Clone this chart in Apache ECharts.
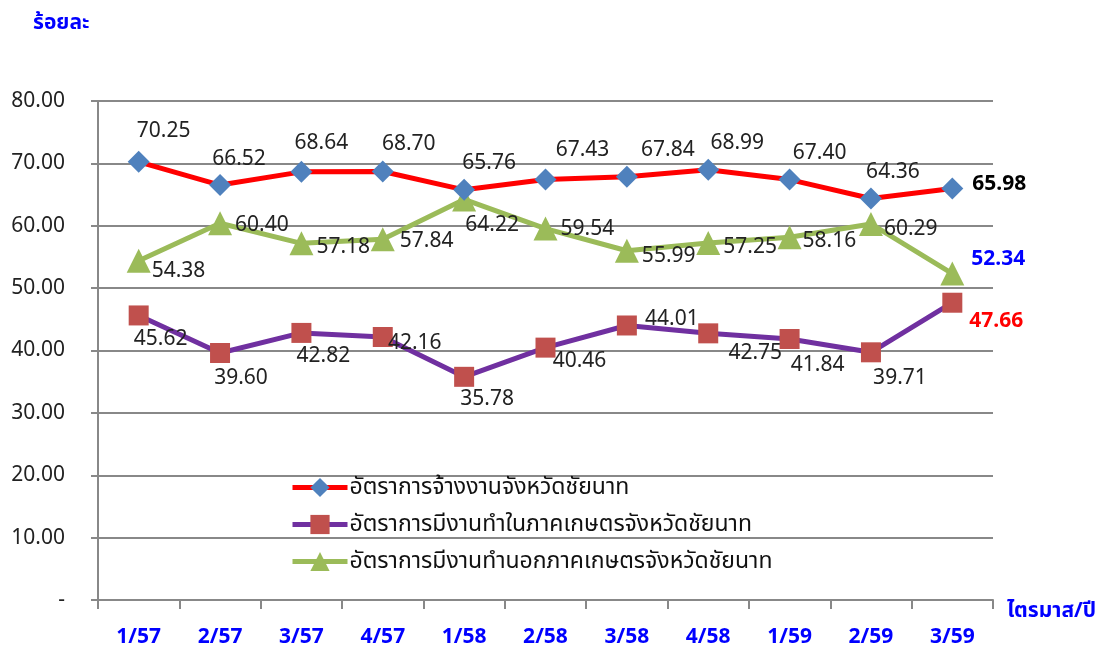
<!DOCTYPE html>
<html lang="th">
<head>
    <meta charset="UTF-8">
    <title>อัตราการจ้างงานจังหวัดชัยนาท</title>
    <style>
        *{
            margin: 0;
            padding: 0;
        }
        body{
            background: #fff;
        }
    </style>
</head>
<body>
<div id="main" style="width: 1109px;height:653px;"></div>
<script src="https://cdn.jsdelivr.net/npm/echarts@6/dist/echarts.min.js"></script>
<script type="text/javascript">
    // ข้อมูล
    var quarters = ['1/57','2/57','3/57','4/57','1/58','2/58','3/58','4/58','1/59','2/59','3/59'];
    var employRate = [70.25,66.52,68.64,68.70,65.76,67.43,67.84,68.99,67.40,64.36,65.98];
    var agriRate = [45.62,39.60,42.82,42.16,35.78,40.46,44.01,42.75,41.84,39.71,47.66];
    var nonAgriRate = [54.38,60.40,57.18,57.84,64.22,59.54,55.99,57.25,58.16,60.29,52.34];
    var yTicks = [0,10,20,30,40,50,60,70,80];

    var seriesNames = [
        'อัตราการจ้างงานจังหวัดชัยนาท',
        'อัตราการมีงานทำในภาคเกษตรจังหวัดชัยนาท',
        'อัตราการมีงานทำนอกภาคเกษตรจังหวัดชัยนาท'
    ];

    // ตำแหน่งป้ายข้อมูลแต่ละจุด (ปรับตามภาพ)
    var redPos = ['top','top','top','top','top','top','top','top','top','top','right'];
    var redOffsets = [[25,-4],[19,0],[20,-2],[26,-1],[25,0],[37,-3],[41,0],[29,0],[30,0],[22,0],[4,-4]];
    var purplePos = ['bottom','bottom','bottom','bottom','bottom','bottom','bottom','bottom','bottom','bottom','right'];
    var purpleOffsets = [[22,-2],[21,0],[22,-2],[32,-20],[23,-3],[34,-12],[45,-32],[47,-6],[28,0],[29,0],[2,18]];
    var greenPos = ['right','right','right','right','bottom','right','right','right','right','right','right'];
    var greenOffsets = [[-4,10],[-2,2],[-2,4],[0,2],[28,-2],[-2,0],[-2,5],[-2,4],[-4,4],[-4,5],[2,-15]];

    var FONT = '"Noto Sans", "Noto Sans Thai", sans-serif';

    function buildData(values, pos, offsets){
        return values.map(function(v, i){
            return {value: v, label: {position: pos[i], offset: offsets[i]}};
        });
    }

    function lastBold(data, color){
        data[data.length - 1].label.fontWeight = 'bold';
        data[data.length - 1].label.color = color;
        return data;
    }

    var myChart = echarts.init(document.getElementById('main'));
    myChart.setOption({
        animation: false,
        textStyle: {fontFamily: FONT},
        title: [
            {
                text: 'ร้อยละ',
                left: 28,
                top: 8,
                textStyle: {color: '#0000ff', fontSize: 21, fontWeight: 'bold', fontFamily: FONT}
            },
            {
                text: 'ไตรมาส/ปี',
                left: 1002,
                top: 596,
                textStyle: {color: '#0000ff', fontSize: 21, fontWeight: 'bold', fontFamily: FONT}
            }
        ],
        legend: {
            orient: 'vertical',
            left: 290,
            top: 476,
            padding: 0,
            itemWidth: 55,
            itemHeight: 24,
            itemGap: 14,
            lineStyle: {width: 5},
            textStyle: {fontSize: 23, color: '#111', fontFamily: FONT, padding: [0, 0, 0, -3]},
            data: seriesNames
        },
        grid: {
            left: 98,
            right: 116,
            top: 101,
            bottom: 53,
            containLabel: false
        },
        xAxis: {
            type: 'category',
            data: quarters,
            boundaryGap: true,
            axisLine: {lineStyle: {color: '#888', width: 2}},
            axisTick: {show: true, length: 9, lineStyle: {color: '#888', width: 2}},
            axisLabel: {
                margin: 27,
                fontSize: 21,
                fontWeight: 'bold',
                color: '#0000ff',
                fontFamily: FONT
            }
        },
        yAxis: {
            type: 'value',
            min: yTicks[0],
            max: yTicks[yTicks.length - 1],
            interval: 10,
            axisLine: {show: true, lineStyle: {color: '#888', width: 2}},
            axisTick: {show: true, length: 7, lineStyle: {color: '#888', width: 2}},
            splitLine: {lineStyle: {color: '#888', width: 2}},
            axisLabel: {
                margin: 33,
                fontSize: 21,
                color: '#222',
                fontFamily: FONT,
                formatter: function(value){
                    if(value == 0){
                        return '-';
                    }
                    return value.toFixed(2);
                }
            }
        },
        series: [
            {
                name: seriesNames[0],
                type: 'line',
                color: '#4f81bd',
                symbol: 'diamond',
                symbolSize: 22,
                lineStyle: {color: '#ff0000', width: 5},
                itemStyle: {color: '#4f81bd'},
                label: {
                    show: true,
                    fontSize: 21,
                    color: '#222',
                    fontFamily: FONT,
                    formatter: function(p){ return p.value.toFixed(2); }
                },
                data: lastBold(buildData(employRate, redPos, redOffsets), '#000'),
                z: 4
            },
            {
                name: seriesNames[1],
                type: 'line',
                color: '#c0504d',
                symbol: 'rect',
                symbolSize: 20,
                lineStyle: {color: '#7030a0', width: 5},
                itemStyle: {color: '#c0504d'},
                label: {
                    show: true,
                    fontSize: 21,
                    color: '#222',
                    fontFamily: FONT,
                    formatter: function(p){ return p.value.toFixed(2); }
                },
                data: lastBold(buildData(agriRate, purplePos, purpleOffsets), '#ff0000'),
                z: 3
            },
            {
                name: seriesNames[2],
                type: 'line',
                color: '#9bbb59',
                symbol: 'triangle',
                symbolSize: 24,
                lineStyle: {color: '#9bbb59', width: 5},
                itemStyle: {color: '#9bbb59'},
                label: {
                    show: true,
                    fontSize: 21,
                    color: '#222',
                    fontFamily: FONT,
                    formatter: function(p){ return p.value.toFixed(2); }
                },
                data: lastBold(buildData(nonAgriRate, greenPos, greenOffsets), '#0000ff'),
                z: 3
            }
        ]
    });
</script>
</body>
</html>
